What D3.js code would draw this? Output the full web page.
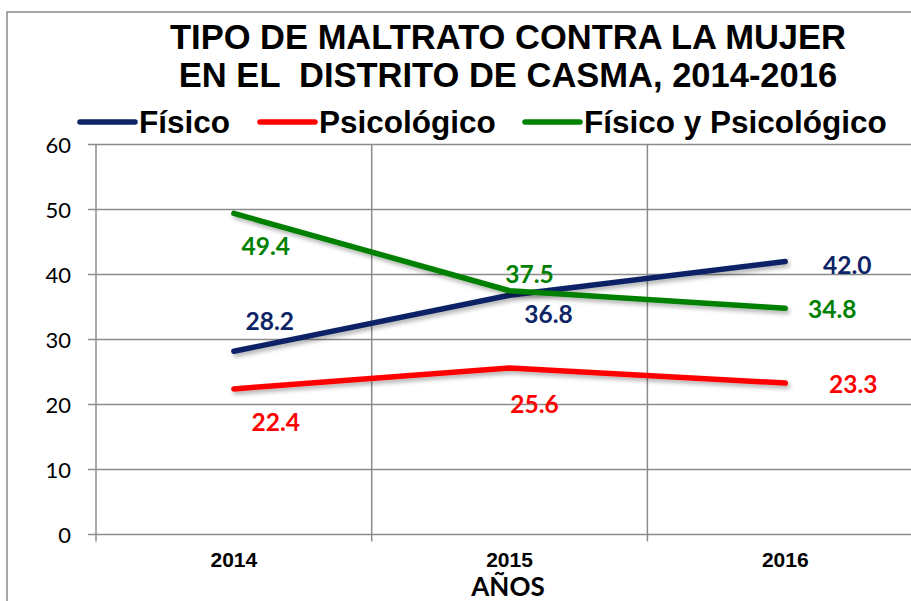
<!DOCTYPE html>
<html><head><meta charset="utf-8">
<script src="https://cdn.jsdelivr.net/npm/d3@7"></script>
<style>body{margin:0;background:#fff;}svg{display:block;}</style>
</head><body>
<script>
const years = ["2014", "2015", "2016"];
const fisico = [28.2, 36.8, 42.0];
const psicologico = [22.4, 25.6, 23.3];
const fisicoPsico = [49.4, 37.5, 34.8];
const seriesNames = ["Físico", "Psicológico", "Físico y Psicológico"];
const yTicks = [0, 10, 20, 30, 40, 50, 60];
const titleLines = ["TIPO DE MALTRATO CONTRA LA MUJER", "EN EL  DISTRITO DE CASMA, 2014-2016"];
const xTitle = "AÑOS";

const colors = ["#0d2466", "#ff0000", "#008000"];
const series = [fisico, psicologico, fisicoPsico];
// label offsets (px) from the point
const labelOffsets = [
  [[36, -21], [39, 28], [62, 12]],
  [[42, 42], [25, 45], [68, 10]],
  [[32, 42], [20, -8], [47, 10]]
];

const W = 911, H = 601;
const svg = d3.select("body").append("svg").attr("width", W).attr("height", H);
const defs = svg.append("defs");
const f = defs.append("filter").attr("id", "sh").attr("x", "-10%").attr("y", "-50%").attr("width", "120%").attr("height", "200%");
f.append("feDropShadow").attr("dx", 2).attr("dy", 3).attr("stdDeviation", 2).attr("flood-color", "#000").attr("flood-opacity", 0.3);

// outer border
svg.append("rect").attr("x", 7).attr("y", 12).attr("width", 1000).attr("height", 700)
  .attr("fill", "none").attr("stroke", "#8a8a8a").attr("stroke-width", 1.5);

const plotLeft = 96, bandW = 275.7, plotTop = 144.5, plotBottom = 534.5;
const x = d3.scaleBand().domain(years).range([plotLeft, plotLeft + bandW * years.length]);
const y = d3.scaleLinear().domain([0, 60]).range([plotBottom, plotTop]);
const gridColor = "#8c8c8c";

// horizontal grid
svg.append("g").selectAll("line").data(yTicks).join("line")
  .attr("x1", plotLeft - 8).attr("x2", W).attr("y1", d => y(d)).attr("y2", d => y(d))
  .attr("stroke", gridColor).attr("stroke-width", 1.5);
// vertical grid (band boundaries)
const bounds = years.map(d => x(d)).concat([x(years[years.length - 1]) + x.bandwidth()]);
svg.append("g").selectAll("line").data(bounds).join("line")
  .attr("x1", d => d).attr("x2", d => d).attr("y1", plotTop).attr("y2", plotBottom + 7)
  .attr("stroke", gridColor).attr("stroke-width", 1.5);

// y tick labels
svg.append("g").selectAll("text").data(yTicks).join("text")
  .attr("x", 71).attr("y", d => y(d) + 8).attr("text-anchor", "end")
  .attr("font-family", "Lato, 'Open Sans', sans-serif").attr("font-size", 22).attr("fill", "#000")
  .text(d => d);

// x tick labels
svg.append("g").selectAll("text").data(years).join("text")
  .attr("x", d => x(d) + x.bandwidth() / 2).attr("y", 567).attr("text-anchor", "middle")
  .attr("font-family", "'Liberation Sans', Arial, sans-serif").attr("font-weight", "bold").attr("font-size", 21)
  .attr("fill", "#000").text(d => d);

// x axis title
svg.append("text").attr("x", 508).attr("y", 596).attr("text-anchor", "middle")
  .attr("font-family", "Lato, sans-serif").attr("font-weight", "bold").attr("font-size", 26)
  .attr("fill", "#000").text(xTitle);

// lines
const line = d3.line().x((d, i) => x(years[i]) + x.bandwidth() / 2).y(d => y(d));
series.forEach((s, k) => {
  svg.append("path").datum(s).attr("d", line).attr("fill", "none")
    .attr("stroke", colors[k]).attr("stroke-width", 5.5).attr("stroke-linecap", "round")
    .attr("stroke-linejoin", "round").attr("filter", "url(#sh)");
});
// labels
series.forEach((s, k) => {
  svg.append("g").selectAll("text").data(s).join("text")
    .attr("x", (d, i) => x(years[i]) + x.bandwidth() / 2 + labelOffsets[k][i][0])
    .attr("y", (d, i) => y(d) + labelOffsets[k][i][1])
    .attr("text-anchor", "middle")
    .attr("font-family", "Lato, sans-serif").attr("font-weight", "bold").attr("font-size", 24.5)
    .attr("fill", colors[k]).text(d => d.toFixed(1));
});

// title
svg.append("g").selectAll("text").data(titleLines).join("text")
  .attr("x", 508).attr("y", (d, i) => 49 + i * 38).attr("text-anchor", "middle")
  .attr("font-family", "'Liberation Sans', Arial, sans-serif").attr("font-weight", "bold").attr("font-size", 34.5)
  .attr("fill", "#000").style("white-space", "pre").text(d => d);

// legend
const legX = [80, 260, 525];
const legend = svg.append("g").selectAll("g").data(seriesNames).join("g")
  .attr("transform", (d, i) => `translate(${legX[i]},122)`);
legend.append("line").attr("x1", 0).attr("x2", 55).attr("y1", 0).attr("y2", 0)
  .attr("stroke", (d, i) => colors[i]).attr("stroke-width", 5.5).attr("stroke-linecap", "round");
legend.append("text").attr("x", 59).attr("y", 11)
  .attr("font-family", "'Liberation Sans', Arial, sans-serif").attr("font-weight", "bold").attr("font-size", 31.5)
  .attr("fill", "#000").text(d => d);
</script>
</body></html>
